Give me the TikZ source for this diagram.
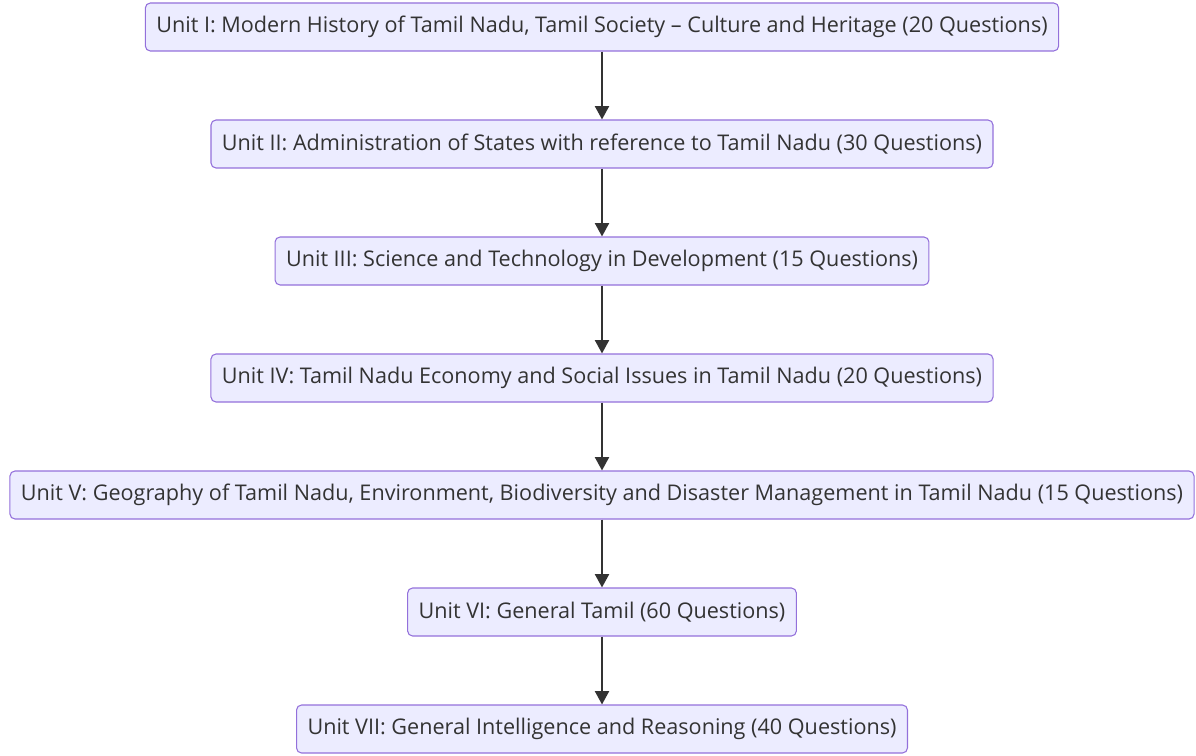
\documentclass[tikz,border=0pt]{standalone}
\usepackage{fontspec}
\setmainfont{Open Sans}
\usetikzlibrary{positioning, arrows.meta}
\definecolor{unitfill}{HTML}{ECECFF}
\definecolor{unitline}{HTML}{9370DB}
\definecolor{darkink}{HTML}{333333}
\tikzset{
  unit/.style={draw=unitline, fill=unitfill, line width=0.8pt, rounded corners=3.75pt,
    minimum height=36pt, inner xsep=8.25pt, text=darkink, font=\fontsize{16.2}{19}\selectfont},
  link/.style={draw=darkink, line width=1.5pt, -{Triangle[length=10pt,width=10.5pt]}}
}

\begin{document}
\begin{tikzpicture}[x=0.75pt, y=-0.75pt, node distance=50.95pt]
    \useasboundingbox (0,0) rectangle (1196,756);
    \node[unit] (u1) at (602,27) {Unit I: Modern History of Tamil Nadu, Tamil Society – Culture and Heritage (20 Questions)};
    \node[unit, below=of u1] (u2) {Unit II: Administration of States with reference to Tamil Nadu (30 Questions)};
    \node[unit, below=of u2] (u3) {Unit III: Science and Technology in Development (15 Questions)};
    \node[unit, below=of u3] (u4) {Unit IV: Tamil Nadu Economy and Social Issues in Tamil Nadu (20 Questions)};
    \node[unit, below=of u4] (u5) {Unit V: Geography of Tamil Nadu, Environment, Biodiversity and Disaster Management in Tamil Nadu (15 Questions)};
    \node[unit, below=of u5] (u6) {Unit VI: General Tamil (60 Questions)};
    \node[unit, below=of u6] (u7) {Unit VII: General Intelligence and Reasoning (40 Questions)};

    % Connect the units
    \draw[link] (u1) -- (u2);
    \draw[link] (u2) -- (u3);
    \draw[link] (u3) -- (u4);
    \draw[link] (u4) -- (u5);
    \draw[link] (u5) -- (u6);
    \draw[link] (u6) -- (u7);
\end{tikzpicture}
\end{document}
